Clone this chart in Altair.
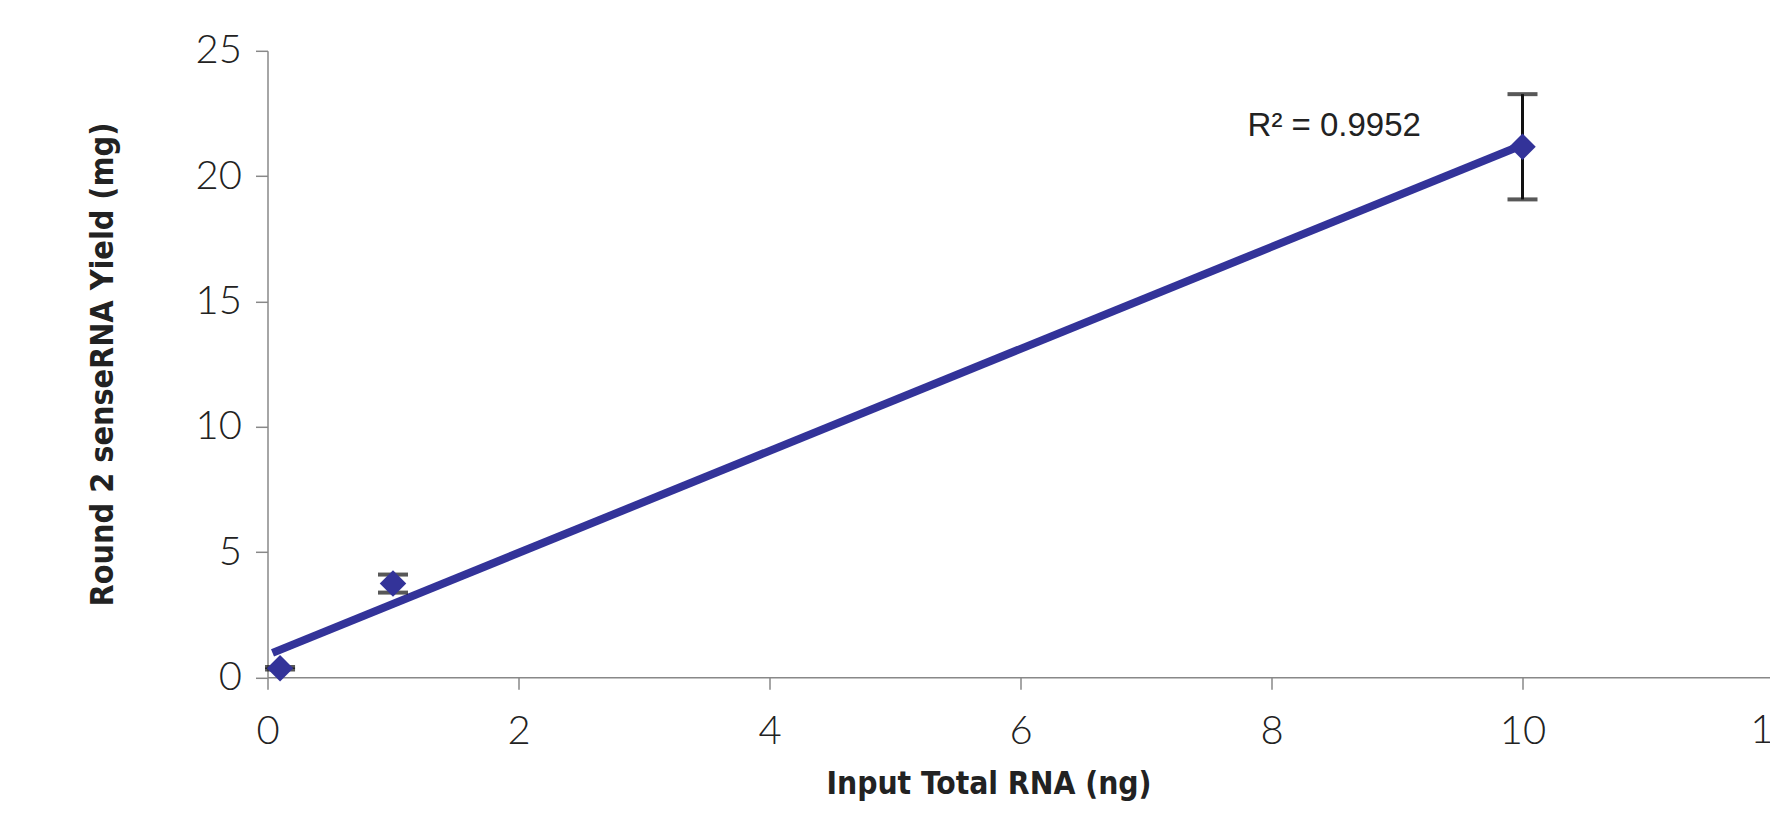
import altair as alt
import pandas as pd

# Data
x_vals = [0.1, 1, 10]
y_vals = [0.36, 3.74, 21.17]
err_vals = [0.05, 0.36, 2.1]

x_ticks = [0, 2, 4, 6, 8, 10, 12]
y_ticks = [0, 5, 10, 15, 20, 25]

r2_text = ["R² = 0.9952"]
r2_x = [8.5]
r2_y = [21.6]

edge_label = ["12"]
edge_x = [12]
edge_y = [0]

df = pd.DataFrame({"x": x_vals, "y": y_vals, "err": err_vals})
df["lo"] = df["y"] - df["err"]
df["hi"] = df["y"] + df["err"]

ann = pd.DataFrame({"t": r2_text, "x": r2_x, "y": r2_y})
edge = pd.DataFrame({"t": edge_label, "x": edge_x, "y": edge_y})

BLUE = "#333399"
LEFT = 267.5
TOP = 50.8
W = 1770 - LEFT
H = 626.5
PX_PER_UNIT = 125.5
XMAX = W / PX_PER_UNIT

TITLE_FONT = "DejaVu Sans Condensed, Liberation Sans, sans-serif"

xscale = alt.Scale(domain=[0, XMAX], nice=False, zero=False)
yscale = alt.Scale(domain=[0, 25], nice=False)

xaxis = alt.Axis(
    values=x_ticks, title="Input Total RNA (ng)", grid=False, format="d",
    labelFont="Lato", labelFontWeight=300, labelFontSize=40, labelColor="#222222",
    labelPadding=22, tickSize=12, tickColor="#888888", domainColor="#888888",
    tickWidth=1.5, domainWidth=1.5, labelFlush=False,
    titleFont=TITLE_FONT, titleFontWeight="bold", titleFontSize=31.5,
    titleColor="#222222", titlePadding=17, titleX=721,
)
yaxis = alt.Axis(
    values=y_ticks, title="Round 2 senseRNA Yield (mg)", grid=False, format="d",
    labelFont="Lato", labelFontWeight=300, labelFontSize=40, labelColor="#222222",
    labelPadding=14, tickSize=12, tickColor="#888888", domainColor="#888888",
    tickWidth=1.5, domainWidth=1.5,
    titleFont=TITLE_FONT, titleFontWeight="bold", titleFontSize=32,
    titleColor="#222222", titlePadding=76,
)

base = alt.Chart(df)

trend = base.transform_regression("x", "y", method="linear", extent=[0.04, 10]).mark_line(
    color=BLUE, strokeWidth=8, strokeCap="butt"
).encode(
    x=alt.X("x:Q", scale=xscale, axis=xaxis),
    y=alt.Y("y:Q", scale=yscale, axis=yaxis),
)

err_rule = base.mark_rule(color="#111111", strokeWidth=3).encode(
    x="x:Q", y="lo:Q", y2="hi:Q"
)
cap_lo = base.mark_tick(color="#111111", thickness=4, size=30, orient="horizontal").encode(
    x="x:Q", y="lo:Q"
)
cap_hi = base.mark_tick(color="#111111", thickness=4, size=30, orient="horizontal").encode(
    x="x:Q", y="hi:Q"
)
points = base.mark_point(shape="diamond", filled=True, size=700, color=BLUE, opacity=1).encode(
    x="x:Q", y="y:Q"
)

label = alt.Chart(ann).mark_text(
    font="Liberation Sans", fontSize=33, color="#222222", align="center", baseline="alphabetic"
).encode(x="x:Q", y="y:Q", text="t:N")

edge_text = alt.Chart(edge).mark_text(
    font="Lato", fontWeight=300, fontSize=40, color="#222222", align="center",
    baseline="top", dy=34, clip=False
).encode(x="x:Q", y="y:Q", text="t:N")

chart = alt.layer(trend, err_rule, cap_lo, cap_hi, points, label, edge_text).properties(
    width=W, height=H,
    autosize=alt.AutoSizeParams(type="none"),
    padding={"left": LEFT, "top": TOP, "right": 0, "bottom": 815 - TOP - H},
).configure(background="white").configure_view(stroke=None)

chart.save("out.html", embed_options={"renderer": "svg", "actions": False})
